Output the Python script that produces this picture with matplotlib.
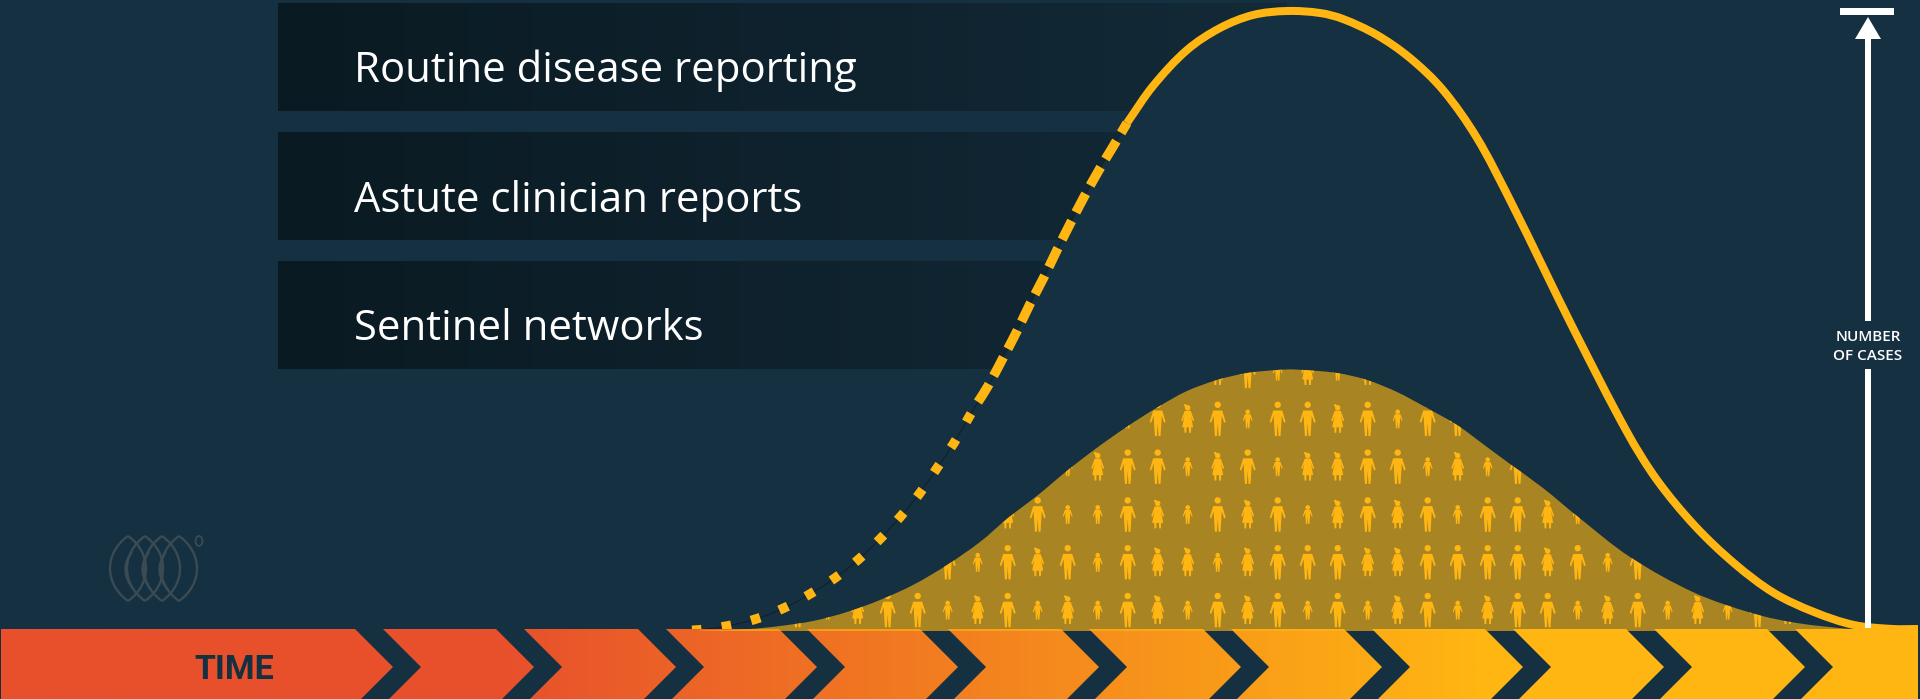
import numpy as np
from matplotlib import pyplot as plt
from matplotlib.colors import LinearSegmentedColormap
from matplotlib.patches import PathPatch, Polygon, Rectangle, Ellipse
from matplotlib.path import Path

plt.rcParams['lines.scale_dashes'] = False

# Picture is laid out in pixels, y goes down
WIDTH = 1920
HEIGHT = 699
PX = 0.72  # one pixel in points at dpi 100

BG = '#153040'
YELLOW = '#ffb612'

# Big epidemic curve, split where the line style changes
dots_x = [672, 697, 727, 756, 784, 810, 835, 859, 881, 901, 920, 937, 954, 969, 978]
dots_y = [630.5, 630, 626, 619, 608, 594, 578, 559, 538, 516, 493, 468, 443, 417, 402]
dashes_x = [978, 988, 1003, 1017, 1030, 1044, 1057, 1070, 1084, 1099, 1114, 1127]
dashes_y = [402, 386, 358, 331, 304, 277, 250, 224, 197, 170, 145, 123]
solid_x = [1127, 1153, 1187, 1220, 1253, 1287, 1320, 1343, 1377, 1410, 1443, 1477, 1510,
           1543, 1573, 1627, 1657, 1695, 1735, 1774, 1814, 1854, 1893, 1918]
solid_y = [123, 86, 50, 28, 15, 11, 13, 19, 35, 58, 90, 138, 200,
           267, 328, 432, 480, 526, 564, 593, 612, 625, 629, 629]

# Reported cases hump
hump_x = [700, 750, 780, 813, 847, 880, 913, 947, 980, 1008, 1038, 1068, 1098, 1128, 1158, 1187,
          1217, 1247, 1277, 1295, 1337, 1367, 1397, 1427, 1457, 1487, 1510, 1543, 1577, 1630, 1695,
          1755, 1797, 1850, 1880]
hump_y = [630.5, 629, 626, 621, 612, 600, 585, 565, 542, 518, 495, 470, 447, 426, 407, 391,
          380, 373, 370, 369.5, 373, 380, 392, 408, 425, 447, 464, 488, 516, 557, 593,
          614, 623, 629, 630.5]

# People inside the hump, one string per row, columns start at first_person_x
# M man, W woman, C child, . nobody
person_rows = [
    'MCWMMCWMCWCMWCMWMCMCWMCWMMCWMCWCMW',
    '.....MCMWMCMWWCWMMMWWMMMMWMCM.....',
    '.......WMCCMWCMWMCWMWMCMMWC.......',
    '.........CWMMCWMCWWMMCWCM.........',
    '...........CMWMCMMWMCMM...........',
    '..............WMCWCW..............',
]
first_person_x = 797.7
person_step_x = 30
first_row_y = 610
row_step_y = 47.8

band_labels = ['Routine disease reporting', 'Astute clinician reports', 'Sentinel networks']
band_tops = [3, 132, 261]
band_bottoms = [111, 240, 369]
label_baselines = [82, 212, 340]

# Inner tips of the chevrons cut in the time bar
chevron_x = [393, 534, 676, 817, 958, 1099, 1241, 1382, 1523, 1664, 1805]


def smooth_path(xs, ys):
    # Curve through the read points, returns vertices and codes for a Path
    p = np.column_stack([xs, ys]).astype(float)
    d = np.hypot(*np.diff(p, axis=0).T)
    verts = [p[0]]
    codes = [Path.MOVETO]
    for i in range(len(p) - 1):
        if i == 0:
            t0 = (p[1] - p[0]) / d[0]
        else:
            t0 = (p[i + 1] - p[i - 1]) / (d[i - 1] + d[i])
        if i == len(p) - 2:
            t1 = (p[i + 1] - p[i]) / d[i]
        else:
            t1 = (p[i + 2] - p[i]) / (d[i] + d[i + 1])
        verts += [p[i] + t0 * d[i] / 3, p[i + 1] - t1 * d[i] / 3, p[i + 1]]
        codes += [Path.CURVE4] * 3
    return np.array(verts), codes


def person_path(kind, x, y):
    # Little figure centred on x, y
    if kind == 'W':
        half = [(0, -8), (3, -8), (6.5, 1.5), (5.2, 2.5), (3.3, -3), (5.5, 8.5),
                (3.5, 8.5), (3.2, 14), (1.4, 14), (1.2, 8.5), (0, 8.5)]
        head = (0, -11, 2.7)
        scale = (1, 1)
    else:
        half = [(0, -8.3), (4.5, -8.3), (8, 3), (6.5, 4), (4, -3), (3.7, 4),
                (2.8, 17.3), (0.8, 17.3), (0, 4.5)]
        head = (0, -14, 3.2)
        scale = (1, 1)
        if kind == 'C':
            head = (0, -7, 2.3)
            scale = (0.62, 0.555)
    outline = half + [(-a, b) for a, b in reversed(half[1:-1])]
    outline = np.array(outline, dtype=float) * scale + [x, y]
    parts = [Path(outline, closed=False), Path.circle((x + head[0], y + head[1]), head[2])]
    if kind == 'W':
        parts.append(Path.circle((x - 2.4, y - 13.4), 1.3))
    return parts


fig = plt.figure(figsize=(WIDTH / 100, HEIGHT / 100), facecolor=BG)
ax = fig.add_axes([0, 0, 1, 1])
ax.set_facecolor(BG)
ax.axis('off')

# Dark bands, they stop at the big curve
rise_x = dots_x + dashes_x[1:] + solid_x[1:6]
rise_y = dots_y + dashes_y[1:] + solid_y[1:6]
v, c = smooth_path(rise_x, rise_y)
v = np.vstack([v, [[rise_x[-1], 0], [0, 0], [0, 640], [rise_x[0], 640]]])
c = c + [Path.LINETO] * 3 + [Path.CLOSEPOLY]
band_clip = PathPatch(Path(v, c), transform=ax.transData)
band_cmap = LinearSegmentedColormap.from_list('band', ['#0a1a22', '#132a38'])
for top, bottom, label, base in zip(band_tops, band_bottoms, band_labels, label_baselines):
    im = ax.imshow(np.linspace(0, 1, 256).reshape(1, -1), cmap=band_cmap, aspect='auto',
                   extent=[278, 1295, bottom, top], zorder=1)
    im.set_clip_path(band_clip)
    ax.text(354, base, label, color='white', fontsize=30.2, family='Open Sans', va='baseline', zorder=6)

# Thin line under the dashed part, then dots and dashes
v, c = smooth_path(dots_x + dashes_x[1:], dots_y + dashes_y[1:])
ax.add_patch(PathPatch(Path(v, c), fill=False, ec='#0e2029', lw=1 * PX, zorder=2))
v, c = smooth_path(dots_x, dots_y)
ax.add_patch(PathPatch(Path(v, c), fill=False, ec=YELLOW, lw=9.5 * PX,
                       linestyle=(10 * PX, (9.5 * PX, 20.5 * PX)), capstyle='butt', zorder=3))
v, c = smooth_path(dashes_x, dashes_y)
ax.add_patch(PathPatch(Path(v, c), fill=False, ec=YELLOW, lw=9.5 * PX,
                       linestyle=(0, (21 * PX, 9.5 * PX)), capstyle='butt', zorder=3))
v, c = smooth_path(solid_x, solid_y)
ax.add_patch(PathPatch(Path(v, c), fill=False, ec=YELLOW, lw=8 * PX, capstyle='butt', zorder=3))

# Time bar with gradient and chevrons
bar_cmap = LinearSegmentedColormap.from_list(
    'bar', [(0, '#e8502c'), (500 / 1918, '#e8502c'), (1480 / 1918, YELLOW), (1, YELLOW)])
ax.imshow(np.linspace(0, 1, 960).reshape(1, -1), cmap=bar_cmap, aspect='auto',
          extent=[1, 1918, 699, 629], zorder=4)
for a in chevron_x:
    ax.add_patch(Polygon([(a - 38, 629), (a - 10, 629), (a + 28, 667), (a - 4, 699), (a - 32, 699), (a, 667)],
                         fc=BG, ec='none', zorder=4))
ax.text(234, 679, 'TIME', color=BG, fontsize=24.5, fontweight='bold', ha='center', va='baseline',
        family=['Liberation Sans Narrow', 'Roboto'], zorder=6)

# Hump sits over the bar top, that gives the light strip
v, c = smooth_path(hump_x, hump_y)
v = np.vstack([v, [[hump_x[-1], 631], [hump_x[0], 631], [hump_x[0], 631]]])
c = c + [Path.LINETO, Path.LINETO, Path.CLOSEPOLY]
hump = PathPatch(Path(v, c), fc=YELLOW, ec='none', alpha=0.63, zorder=5)
ax.add_patch(hump)

parts = []
for r, row in enumerate(person_rows):
    for k, kind in enumerate(row):
        if kind != '.':
            parts += person_path(kind, first_person_x + k * person_step_x, first_row_y - r * row_step_y)
people = PathPatch(Path.make_compound_path(*parts), fc=YELLOW, ec='none', zorder=5.5)
ax.add_patch(people)
people.set_clip_path(hump)

# Number of cases arrow
ax.add_patch(Rectangle((1865, 39), 6, 282, fc='white', ec='none', zorder=6))
ax.add_patch(Rectangle((1865, 369), 6, 259, fc='white', ec='none', zorder=6))
ax.add_patch(Polygon([(1868, 17), (1855, 39), (1881, 39)], fc='white', ec='none', zorder=6))
ax.add_patch(Rectangle((1840, 8), 54, 7, fc='white', ec='none', zorder=6))
ax.text(1868, 341, 'NUMBER', color='white', fontsize=11, fontweight='semibold', ha='center',
        va='baseline', family='Open Sans', zorder=6)
ax.text(1868, 360, 'OF CASES', color='white', fontsize=11, fontweight='semibold', ha='center',
        va='baseline', family='Open Sans', zorder=6)

# Faint logo
logo = '#3b4b53'
for cx in [128, 145, 162, 179]:
    for side in [-1, 1]:
        ax.add_patch(PathPatch(Path([(cx, 536), (cx + side * 24, 553), (cx + side * 24, 584), (cx, 601)],
                                    [Path.MOVETO, Path.CURVE4, Path.CURVE4, Path.CURVE4]),
                               fill=False, ec=logo, lw=1.7, zorder=2))
for cx in [132, 149, 166]:
    ax.add_patch(PathPatch(Path([(cx, 552), (cx - 14, 570), (cx + 2, 590)],
                                [Path.MOVETO, Path.CURVE3, Path.CURVE3]),
                           fill=False, ec=logo, lw=1.7, zorder=2))
ax.add_patch(Ellipse((199, 541), 7, 10, fill=False, ec=logo, lw=1.3, zorder=2))

ax.set_xlim(0, WIDTH)
ax.set_ylim(HEIGHT, 0)

fig.savefig('out.png', dpi=100, facecolor=BG)
